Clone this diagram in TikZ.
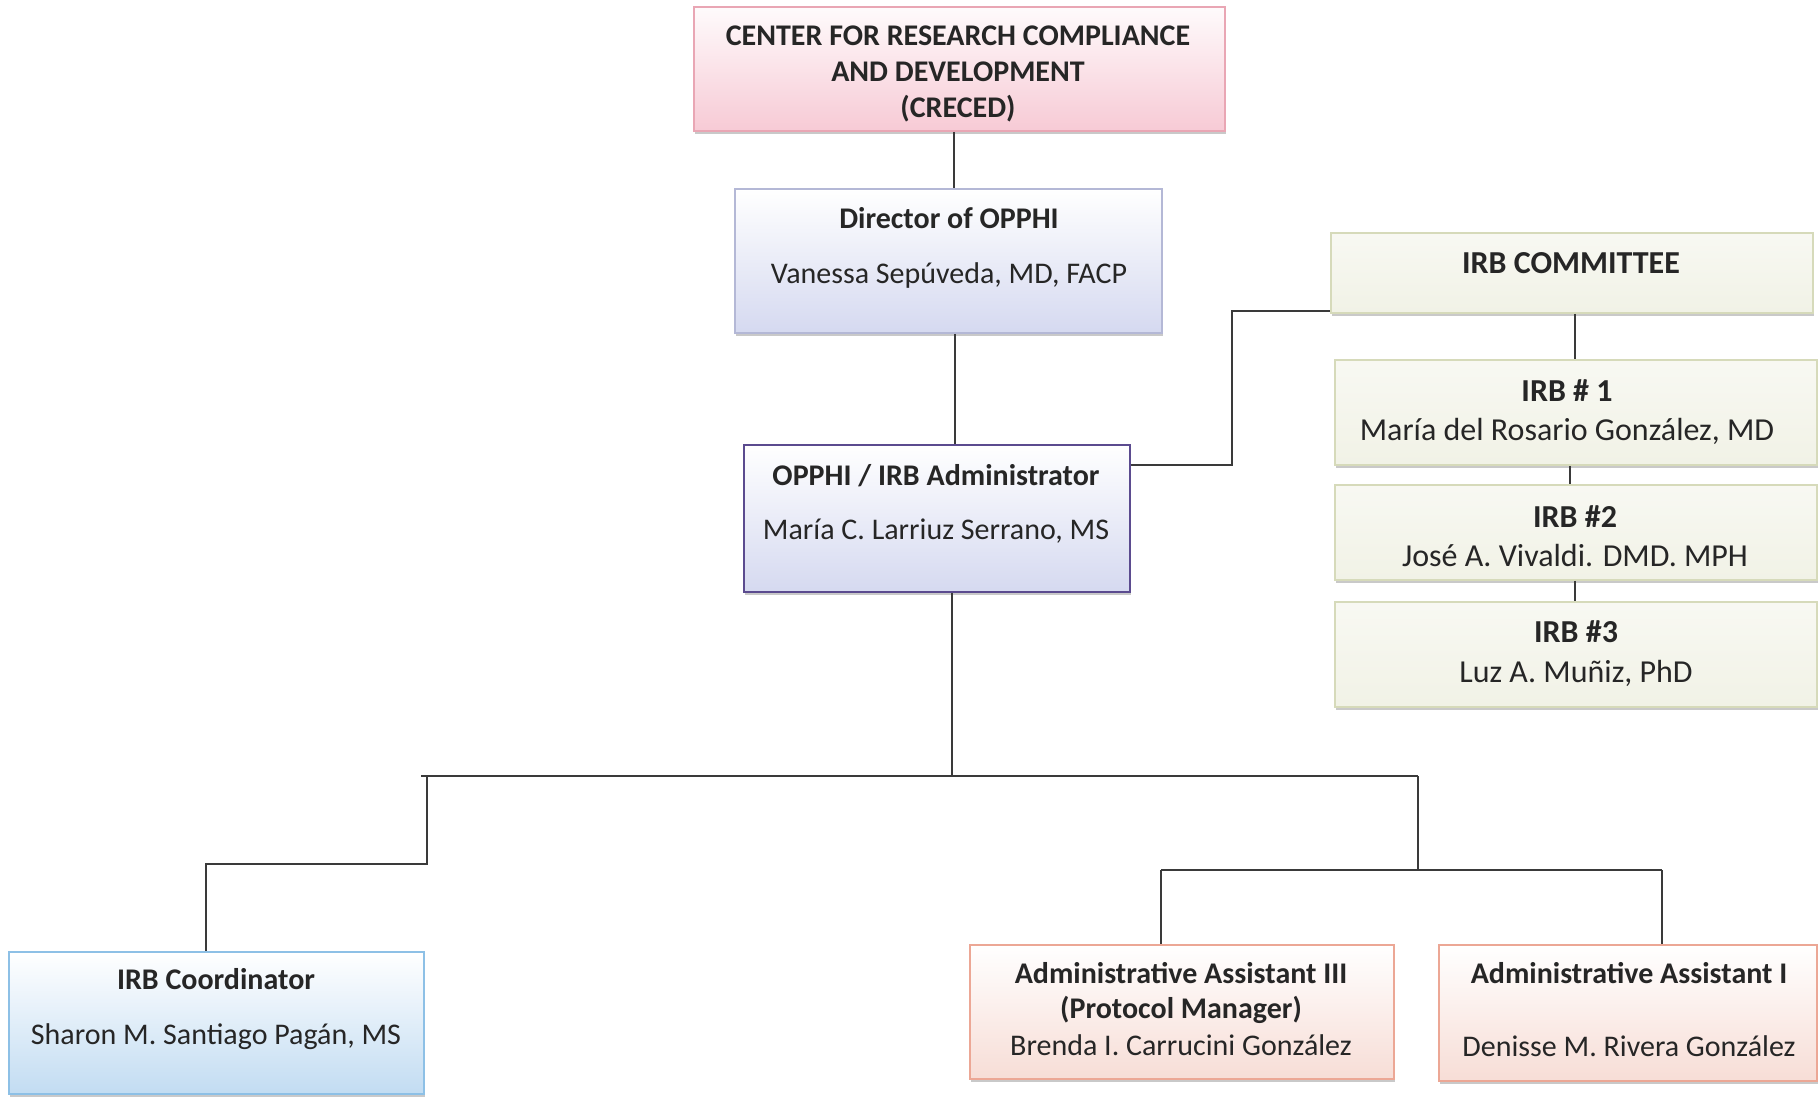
\documentclass[tikz,border=0pt]{standalone}
\usepackage{fontspec}
\setmainfont{Carlito}
\usetikzlibrary{shadows}
\definecolor{pinkB}{HTML}{E9A6B4}
\definecolor{pinkF}{HTML}{F7CAD5}
\definecolor{lavB}{HTML}{B4B8D6}
\definecolor{lavF}{HTML}{D5D9F0}
\definecolor{purB}{HTML}{5B4B8F}
\definecolor{grnB}{HTML}{D6DABA}
\definecolor{grnF}{HTML}{F1F2E6}
\definecolor{skyB}{HTML}{8DC0E6}
\definecolor{skyF}{HTML}{C2DCF2}
\definecolor{pchB}{HTML}{ECA795}
\definecolor{pchF}{HTML}{F7DDD6}
\definecolor{lineC}{HTML}{3A3A3A}
\tikzset{
  boxbase/.style={line width=1.8pt, inner sep=0pt,
    drop shadow={shadow xshift=1pt, shadow yshift=-3pt, opacity=0.35, fill=black!60}},
  pinkbox/.style={boxbase, draw=pinkB, top color=white!92!pinkF, bottom color=pinkF},
  lavbox/.style={boxbase, draw=lavB, top color=white, bottom color=lavF},
  purbox/.style={boxbase, draw=purB, top color=white, bottom color=lavF},
  grnbox/.style={boxbase, draw=grnB, top color=white!50!grnF, bottom color=grnF},
  skybox/.style={boxbase, draw=skyB, top color=white, bottom color=skyF},
  pchbox/.style={boxbase, draw=pchB, top color=white, bottom color=pchF},
  ttl/.style={font=\fontsize{30}{36}\selectfont\bfseries, text=black!85, anchor=base, inner sep=0pt},
  nm/.style={font=\fontsize{30}{36}\selectfont, text=black!85, anchor=base, inner sep=0pt},
  ittl/.style={ttl, font=\fontsize{32}{38}\selectfont\bfseries},
  inm/.style={nm, font=\fontsize{32}{38}\selectfont},
  conn/.style={draw=lineC, line width=2pt}
}
\begin{document}
\begin{tikzpicture}[x=1pt, y=-1pt]
\useasboundingbox[fill=white] (0,0) rectangle (1819,1096);
% boxes
\node[pinkbox, minimum width=531pt, minimum height=124pt] (creced) at (959.5,69) {};
\node[lavbox, minimum width=427pt, minimum height=144pt] (director) at (948.5,261) {};
\node[purbox, minimum width=386pt, minimum height=147pt] (admin) at (937,518.5) {};
\node[grnbox, minimum width=482pt, minimum height=80pt] (committee) at (1572,273) {};
\node[grnbox, minimum width=482pt, minimum height=105pt] (irb1) at (1576,412.5) {};
\node[grnbox, minimum width=482pt, minimum height=95pt] (irb2) at (1576,532.5) {};
\node[grnbox, minimum width=482pt, minimum height=105pt] (irb3) at (1576,654.5) {};
\node[skybox, minimum width=415pt, minimum height=142pt] (coord) at (216.5,1023) {};
\node[pchbox, minimum width=424pt, minimum height=134pt] (aa3) at (1182,1012) {};
\node[pchbox, minimum width=378pt, minimum height=136pt] (aa1) at (1628,1013) {};
% texts
\node[ttl] (c1) at (958,45) {CENTER FOR RESEARCH COMPLIANCE};
\node[ttl] (c2) at (958,81) {AND DEVELOPMENT};
\node[ttl] (c3) at (958,117) {(CRECED)};
\node[ttl] (d1) at (949,228) {Director of OPPHI};
\node[nm] (d2) at (949,283) {Vanessa Sepúveda, MD, FACP};
\node[ttl] (a1) at (936,485) {OPPHI / IRB Administrator};
\node[nm] (a2) at (936,539) {María C. Larriuz Serrano, MS};
\node[ittl] (k1) at (1571,273) {IRB COMMITTEE};
\node[ittl] (i1a) at (1567,401) {IRB \# 1};
\node[inm] (i1b) at (1567,440) {María del Rosario González, MD};
\node[ittl] (i2a) at (1575,527) {IRB \#2};
\node[inm] (i2b) at (1575,566) {José A. Vivaldi. DMD. MPH};
\node[ittl] (i3a) at (1576,642) {IRB \#3};
\node[inm] (i3b) at (1576,682) {Luz A. Muñiz, PhD};
\node[ttl] (s1) at (216,989) {IRB Coordinator};
\node[nm] (s2) at (216,1044) {Sharon M. Santiago Pagán, MS};
\node[ttl] (b1) at (1181,983) {Administrative Assistant III};
\node[ttl] (b2) at (1181,1018) {(Protocol Manager)};
\node[nm] (b3) at (1181,1055) {Brenda I. Carrucini González};
\node[ttl] (e1) at (1629,983) {Administrative Assistant I};
\node[nm] (e2) at (1629,1056) {Denisse M. Rivera González};
% connectors
\draw[conn] (954,0 |- creced.south) -- (954,0 |- director.north);
\draw[conn] (955,0 |- director.south) -- (955,0 |- admin.north);
\draw[conn] (admin.east |- 0,465) -- (1232,465) -- (1232,311) -- (committee.west |- 0,311);
\draw[conn] (1575,0 |- committee.south) -- (1575,0 |- irb1.north);
\draw[conn] (1570,0 |- irb1.south) -- (1570,0 |- irb2.north);
\draw[conn] (1575,0 |- irb2.south) -- (1575,0 |- irb3.north);
\coordinate (hm) at (952,776);
\coordinate (hl) at (421,776);
\coordinate (hr) at (1418,776);
\coordinate (ll) at (427,864);
\coordinate (lr) at (206,864);
\coordinate (rm) at (1418,870);
\coordinate (rl) at (1161,870);
\coordinate (rr) at (1662,870);
\draw[conn] (952,0 |- admin.south) -- (hm);
\draw[conn] (hl) -- (hr);
\draw[conn] (427,776) -- (ll) -- (lr) -- (206,0 |- coord.north);
\draw[conn] (hr) -- (rm);
\draw[conn] (rl) -- (rr);
\draw[conn] (rl) -- (1161,0 |- aa3.north);
\draw[conn] (rr) -- (1662,0 |- aa1.north);
\end{tikzpicture}
\end{document}
